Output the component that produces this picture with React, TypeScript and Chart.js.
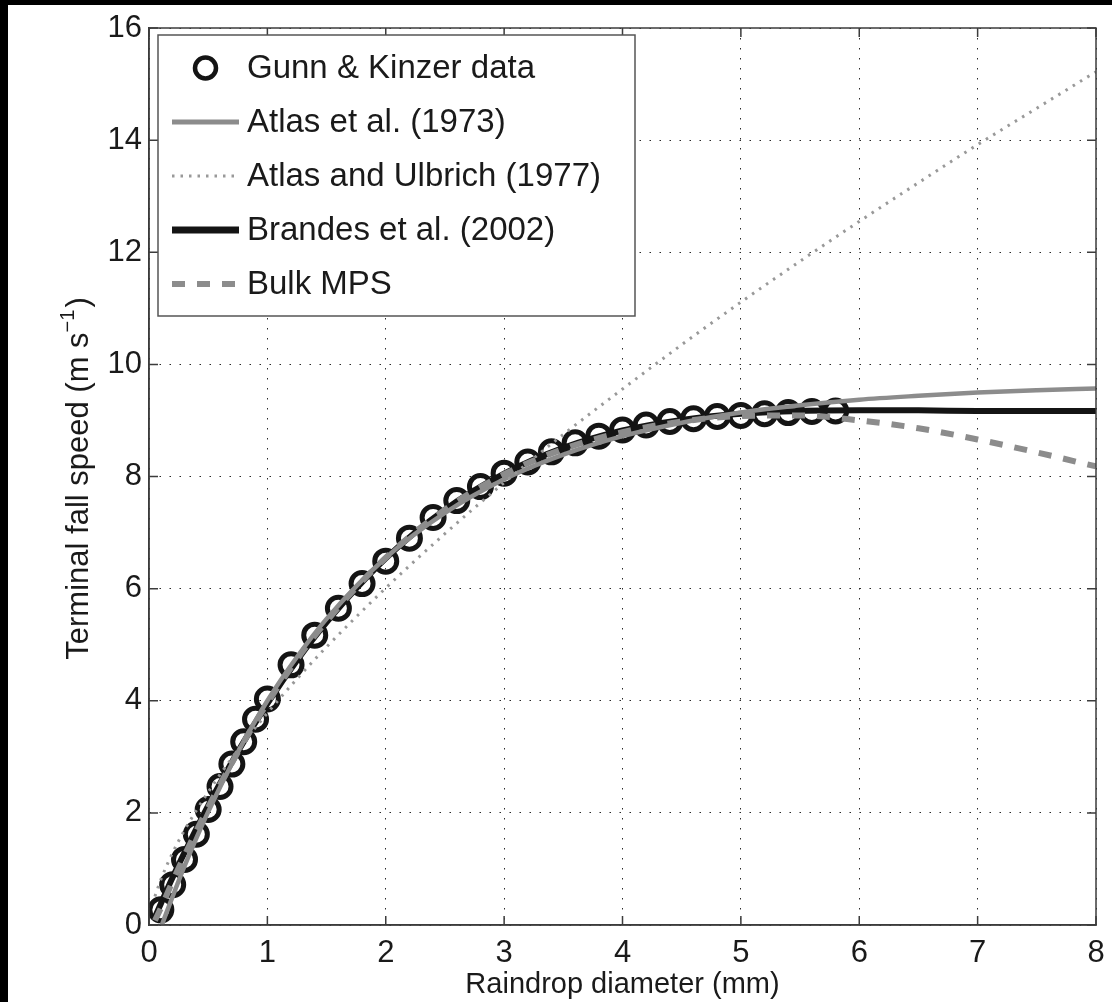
import React, { useEffect, useRef } from "react";
import { Chart, registerables } from "chart.js";

Chart.register(...registerables);

// ---------- data ----------
// Gunn & Kinzer measured terminal fall speeds
const gunnDiameter = [
  0.1, 0.2, 0.3, 0.4, 0.5, 0.6, 0.7, 0.8, 0.9, 1.0, 1.2, 1.4, 1.6, 1.8, 2.0, 2.2, 2.4,
  2.6, 2.8, 3.0, 3.2, 3.4, 3.6, 3.8, 4.0, 4.2, 4.4, 4.6, 4.8, 5.0, 5.2, 5.4, 5.6, 5.8,
];
const gunnSpeed = [
  0.27, 0.72, 1.17, 1.62, 2.06, 2.47, 2.87, 3.27, 3.67, 4.03, 4.64, 5.17, 5.65, 6.09, 6.49,
  6.9, 7.27, 7.57, 7.82, 8.06, 8.26, 8.44, 8.6, 8.72, 8.83, 8.92, 8.98, 9.03, 9.07, 9.09,
  9.12, 9.14, 9.16, 9.17,
];

// diameters at which the fitted curves were read
const curveDiameter = [
  0.05, 0.1, 0.2, 0.3, 0.5, 0.75, 1.0, 1.25, 1.5, 2.0, 2.5, 3.0, 3.5, 4.0, 4.5, 5.0, 5.5,
  6.0, 6.5, 7.0, 7.5, 8.0,
];
const atlas1973 = [
  -0.35, -0.05, 0.51, 1.05, 2.02, 3.08, 4.0, 4.78, 5.46, 6.55, 7.35, 7.95, 8.39, 8.72,
  8.96, 9.14, 9.27, 9.37, 9.44, 9.5, 9.54, 9.57,
];
const atlasUlbrich1977 = [
  0.51, 0.81, 1.29, 1.69, 2.37, 3.12, 3.78, 4.39, 4.96, 6.01, 6.98, 7.89, 8.75, 9.56,
  10.35, 11.11, 11.84, 12.55, 13.24, 13.92, 14.57, 15.22,
];
const brandes2002 = [
  0.14, 0.38, 0.85, 1.29, 2.13, 3.09, 3.95, 4.72, 5.4, 6.54, 7.41, 8.05, 8.51, 8.82,
  9.01, 9.12, 9.17, 9.18, 9.18, 9.17, 9.17, 9.17,
];
const bulkMPS = [
  0.08, 0.3, 0.78, 1.24, 2.1, 3.08, 3.96, 4.74, 5.42, 6.55, 7.41, 8.04, 8.49, 8.79, 8.98,
  9.08, 9.09, 9.0, 8.86, 8.66, 8.43, 8.18,
];

const xTickMin = 0;
const xTickMax = 8;
const yTickMin = 0;
const yTickMax = 16;

const seriesNames = [
  "Gunn & Kinzer data",
  "Atlas et al. (1973)",
  "Atlas and Ulbrich (1977)",
  "Brandes et al. (2002)",
  "Bulk MPS",
];

const xTitle = "Raindrop diameter (mm)";
const yTitleMain = "Terminal fall speed (m s";
const yTitleSup = "\u22121";
const yTitleEnd = ")";

// ---------- styling ----------
const FONT = "'Liberation Sans', Arial, Helvetica, sans-serif";
const INK = "#1a1a1a";
const FRAME = "#3c3c3c";
const TICK_LEN = 9;

const W = 1104;
const H = 997;

function pairs(xs: number[], ys: number[]) {
  return xs.map((x, i) => ({ x, y: ys[i] }));
}

export default function App() {
  const ref = useRef<HTMLCanvasElement | null>(null);

  useEffect(() => {
    const canvas = ref.current;
    if (!canvas) return;

    const decorPlugin = {
      id: "decor",
      afterDraw(chart: any) {
        const { ctx, chartArea: a, scales } = chart;
        const sx = scales.x;
        const sy = scales.y;
        ctx.save();

        // inward tick marks and frame
        ctx.strokeStyle = FRAME;
        ctx.lineWidth = 1.5;
        ctx.setLineDash([]);
        ctx.beginPath();
        sx.ticks.forEach((t: any) => {
          const px = sx.getPixelForValue(t.value);
          ctx.moveTo(px, a.bottom);
          ctx.lineTo(px, a.bottom - TICK_LEN);
          ctx.moveTo(px, a.top);
          ctx.lineTo(px, a.top + TICK_LEN);
        });
        sy.ticks.forEach((t: any) => {
          const py = sy.getPixelForValue(t.value);
          ctx.moveTo(a.left, py);
          ctx.lineTo(a.left + TICK_LEN, py);
          ctx.moveTo(a.right, py);
          ctx.lineTo(a.right - TICK_LEN, py);
        });
        ctx.stroke();
        ctx.strokeRect(a.left, a.top, a.right - a.left, a.bottom - a.top);

        // legend box
        const lx = a.left + 9;
        const ly = a.top + 7;
        const lw = 477;
        const lh = 281;
        ctx.fillStyle = "#ffffff";
        ctx.fillRect(lx, ly, lw, lh);
        ctx.strokeStyle = "#555555";
        ctx.lineWidth = 1.5;
        ctx.strokeRect(lx, ly, lw, lh);

        const rowY0 = ly + 33;
        const rowGap = 54;
        const sampleX0 = lx + 14;
        const sampleX1 = lx + 81;
        const textX = lx + 89;
        chart.data.datasets.forEach((ds: any, i: number) => {
          const y = rowY0 + i * rowGap;
          if (ds.showLine === false) {
            ctx.beginPath();
            ctx.setLineDash([]);
            ctx.lineWidth = 4.5;
            ctx.strokeStyle = ds.pointBorderColor;
            ctx.arc((sampleX0 + sampleX1) / 2, y, 10.5, 0, Math.PI * 2);
            ctx.stroke();
          } else {
            ctx.beginPath();
            ctx.setLineDash(ds.borderDash || []);
            ctx.lineWidth = ds.legendWidth || ds.borderWidth;
            ctx.strokeStyle = ds.borderColor;
            ctx.lineCap = "butt";
            ctx.moveTo(sampleX0, y);
            ctx.lineTo(sampleX1, y);
            ctx.stroke();
          }
          ctx.setLineDash([]);
          ctx.fillStyle = INK;
          ctx.font = `33px ${FONT}`;
          ctx.textAlign = "left";
          ctx.textBaseline = "middle";
          ctx.fillText(ds.label, textX, y + 1);
        });

        // rotated y title with superscript
        ctx.translate(80, (a.top + a.bottom) / 2 + 2);
        ctx.rotate(-Math.PI / 2);
        ctx.fillStyle = INK;
        ctx.textBaseline = "alphabetic";
        ctx.textAlign = "left";
        const mainFont = `31px ${FONT}`;
        const supFont = `20px ${FONT}`;
        ctx.font = mainFont;
        const wMain = ctx.measureText(yTitleMain).width;
        const wEnd = ctx.measureText(yTitleEnd).width;
        ctx.font = supFont;
        const wSup = ctx.measureText(yTitleSup).width;
        const total = wMain + wSup + 2 + wEnd;
        let x = -total / 2;
        ctx.font = mainFont;
        ctx.fillText(yTitleMain, x, 0);
        x += wMain;
        ctx.font = supFont;
        ctx.fillText(yTitleSup, x, -14);
        x += wSup + 2;
        ctx.font = mainFont;
        ctx.fillText(yTitleEnd, x, 0);

        ctx.restore();
      },
    };

    const chart = new Chart(canvas, {
      type: "scatter",
      data: {
        datasets: [
          {
            label: seriesNames[0],
            data: pairs(gunnDiameter, gunnSpeed),
            showLine: false,
            pointRadius: 11,
            pointBorderWidth: 5,
            pointBorderColor: "#141414",
            pointBackgroundColor: "rgba(0,0,0,0)",
            borderColor: "#141414",
            backgroundColor: "rgba(0,0,0,0)",
            order: 5,
          } as any,
          {
            label: seriesNames[1],
            data: pairs(curveDiameter, atlas1973),
            showLine: true,
            borderColor: "#8c8c8c",
            borderWidth: 4.5,
            legendWidth: 5,
            pointRadius: 0,
            cubicInterpolationMode: "monotone",
            order: 3,
          } as any,
          {
            label: seriesNames[2],
            data: pairs(curveDiameter, atlasUlbrich1977),
            showLine: true,
            borderColor: "#999999",
            borderWidth: 3,
            borderDash: [2.5, 6],
            pointRadius: 0,
            cubicInterpolationMode: "monotone",
            order: 2,
          } as any,
          {
            label: seriesNames[3],
            data: pairs(curveDiameter, brandes2002),
            showLine: true,
            borderColor: "#141414",
            borderWidth: 6,
            legendWidth: 7,
            pointRadius: 0,
            cubicInterpolationMode: "monotone",
            order: 4,
          } as any,
          {
            label: seriesNames[4],
            data: pairs(curveDiameter, bulkMPS),
            showLine: true,
            borderColor: "#8c8c8c",
            borderWidth: 6,
            borderDash: [13, 12],
            pointRadius: 0,
            cubicInterpolationMode: "monotone",
            order: 1,
          } as any,
        ],
      },
      options: {
        animation: false,
        responsive: false,
        maintainAspectRatio: false,
        layout: { padding: { left: 0, top: 23, right: 10, bottom: 0 } },
        plugins: {
          legend: { display: false },
          tooltip: { enabled: false },
          title: { display: false },
        },
        scales: {
          x: {
            type: "linear",
            min: xTickMin,
            max: xTickMax,
            ticks: {
              stepSize: 1,
              color: INK,
              font: { family: FONT, size: 31 },
              padding: 10,
              maxRotation: 0,
            },
            grid: {
              color: "#2a2a2a",
              lineWidth: 1,
              drawTicks: false,
            },
            border: { display: true, color: FRAME, width: 1.5, dash: [1.5, 8.5] },
            title: {
              display: true,
              text: xTitle,
              color: INK,
              font: { family: FONT, size: 29, lineHeight: 1.2 },
              padding: { top: 0, bottom: 0 },
            },
            afterFit(scale: any) {
              scale.height = 77;
              scale.paddingLeft = 0;
              scale.paddingRight = 0;
            },
          } as any,
          y: {
            type: "linear",
            min: yTickMin,
            max: yTickMax,
            ticks: {
              stepSize: 2,
              color: INK,
              font: { family: FONT, size: 31 },
              padding: 7,
            },
            grid: {
              color: "#2a2a2a",
              lineWidth: 1,
              drawTicks: false,
            },
            border: { display: true, color: FRAME, width: 1.5, dash: [1.5, 8.5] },
            afterFit(scale: any) {
              scale.width = 141;
              scale.paddingTop = 0;
              scale.paddingBottom = 0;
            },
          } as any,
        },
      },
      plugins: [decorPlugin],
    });

    return () => chart.destroy();
  }, []);

  return (
    <div
      style={{
        position: "fixed",
        left: 0,
        top: 0,
        width: 1112,
        height: 1002,
        background: "#000000",
        overflow: "hidden",
      }}
    >
      <canvas
        ref={ref}
        width={W}
        height={H}
        style={{
          position: "absolute",
          left: 8,
          top: 5,
          width: W,
          height: H,
          background: "#ffffff",
        }}
      />
    </div>
  );
}
